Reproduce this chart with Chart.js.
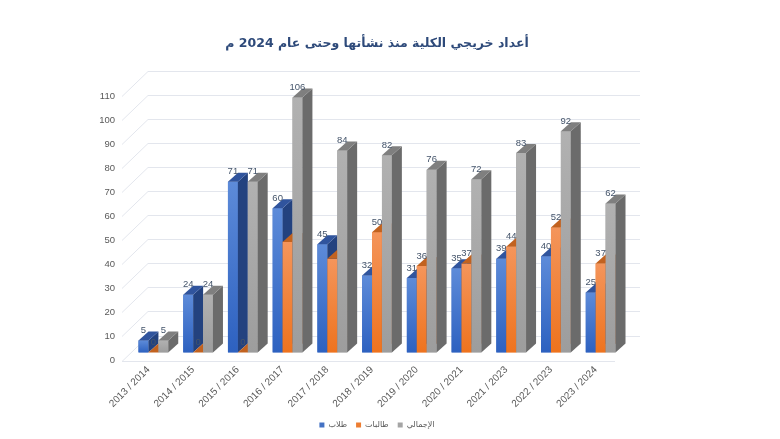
<!DOCTYPE html>
<html lang="ar">
<head>
<meta charset="utf-8">
<title>أعداد خريجي الكلية</title>
<script src="https://cdn.jsdelivr.net/npm/chart.js@4.4.1/dist/chart.umd.min.js"></script>
<style>
  html, body { margin: 0; padding: 0; background: #fff; }
  #wrap { width: 780px; height: 439px; }
</style>
</head>
<body>
<div id="wrap"><canvas id="chartKhirijin" width="780" height="439"></canvas></div>
<script>
// البيانات
const years = ['2013 / 2014', '2014 / 2015', '2015 / 2016', '2016 / 2017', '2017 / 2018', '2018 / 2019',
               '2019 / 2020', '2020 / 2021', '2021 / 2023', '2022 / 2023', '2023 / 2024'];
const tullab  = [5, 24, 71, 60, 45, 32, 31, 35, 39, 40, 25];
const talibat = [0, 0, 0, 46, 39, 50, 36, 37, 44, 52, 37];
const ijmali  = [5, 24, 71, 106, 84, 82, 76, 72, 83, 92, 62];
// labels of the orange bars that are hidden in the original
const talibatLabelShown = [true, true, true, false, false, true, true, true, true, true, true];
const yMin = 0, yMax = 110, yStep = 10;

// colours of each series: front (top/bottom gradient), side face, top face
const faces = [
    { hi: '#5d8bd9', lo: '#2d61c0', side: '#23427f', cap: '#30549d' },
    { hi: '#f4955b', lo: '#ee731e', side: '#a9541b', cap: '#c2621f' },
    { hi: '#b1b1b1', lo: '#9d9d9d', side: '#6b6b6b', cap: '#7f7f7f' }
];
const DX = 10, DY = 9;

const walls3d = {
    id: 'walls3d',
    beforeDatasetsDraw(chart) {
        const ctx = chart.ctx;
        const ys = chart.scales.y;
        const { left, right } = chart.chartArea;
        ctx.save();
        ctx.lineWidth = 1;
        ctx.strokeStyle = '#e3e6ed';
        for (let v = yMin; v <= yMax; v += yStep) {
            const yb = Math.round(ys.getPixelForValue(v));
            ctx.beginPath();
            ctx.moveTo(left - 9, yb + 8.5);
            ctx.lineTo(left + 17, yb - 16.5);
            if (v === 0) {
                ctx.moveTo(left - 9, yb + 8.5);
                ctx.lineTo(right - 8, yb + 8.5);
            }
            ctx.moveTo(left + 17, yb - 16.5);
            ctx.lineTo(right + 17, yb - 16.5);
            ctx.stroke();
        }
        ctx.restore();
    },
    afterDatasetsDraw(chart) {
        const ctx = chart.ctx;
        const metas = chart.data.datasets.map((d, i) => chart.getDatasetMeta(i));
        ctx.save();
        for (let j = 0; j < years.length; j++) {
            metas.forEach((meta, i) => {
                const el = meta.data[j];
                const f = faces[i];
                const x0 = el.x - el.width / 2, x1 = el.x + el.width / 2;
                const yt = el.y, yb = el.base;
                // front
                const g = ctx.createLinearGradient(0, yt, 0, yb);
                g.addColorStop(0, f.hi);
                g.addColorStop(1, f.lo);
                ctx.fillStyle = g;
                ctx.fillRect(x0, yt, x1 - x0, yb - yt);
                // side
                ctx.fillStyle = f.side;
                ctx.beginPath();
                ctx.moveTo(x1, yt);
                ctx.lineTo(x1 + DX, yt - DY);
                ctx.lineTo(x1 + DX, yb - DY);
                ctx.lineTo(x1, yb);
                ctx.closePath();
                ctx.fill();
                // top
                ctx.fillStyle = f.cap;
                ctx.beginPath();
                ctx.moveTo(x0, yt);
                ctx.lineTo(x0 + DX, yt - DY);
                ctx.lineTo(x1 + DX, yt - DY);
                ctx.lineTo(x1, yt);
                ctx.closePath();
                ctx.fill();
            });
        }
        // قيم الأعمدة
        ctx.font = '9.5px "Liberation Sans", Arial, sans-serif';
        ctx.fillStyle = '#44546a';
        ctx.textAlign = 'center';
        ctx.textBaseline = 'middle';
        metas.forEach((meta, i) => {
            const vals = chart.data.datasets[i].data;
            meta.data.forEach((el, j) => {
                if (i === 1 && !talibatLabelShown[j]) return;
                ctx.fillText(String(vals[j]), el.x, el.y - 10);
            });
        });
        ctx.restore();
    }
};

new Chart(document.getElementById('chartKhirijin'), {
    type: 'bar',
    data: {
        labels: years,
        datasets: [
            { label: 'طلاب', data: tullab, backgroundColor: '#4472c4' },
            { label: 'طالبات', data: talibat, backgroundColor: '#ed7d31' },
            { label: 'الإجمالي', data: ijmali, backgroundColor: '#a5a5a5' }
        ]
    },
    options: {
        responsive: false,
        animation: false,
        categoryPercentage: 0.665,
        barPercentage: 1.0,
        layout: { padding: { left: 91, right: 157, top: 0, bottom: 0 } },
        scales: {
            x: {
                grid: { display: false, drawTicks: false },
                border: { display: false },
                ticks: {
                    autoSkip: false, minRotation: 45, maxRotation: 45, padding: 11.5, labelOffset: -5,
                    color: '#595959', font: { family: '"Liberation Sans", Arial, sans-serif', size: 10 }
                },
                afterFit: (s) => { s.height = 59.5; }
            },
            y: {
                min: yMin, max: yMax,
                grid: { display: false, drawTicks: false },
                border: { display: false },
                ticks: {
                    stepSize: yStep, padding: 16, labelOffset: 8,
                    color: '#595959', font: { family: '"Liberation Sans", Arial, sans-serif', size: 9.5 }
                },
                afterFit: (s) => { s.width = 40; }
            }
        },
        plugins: {
            title: {
                display: true, fullSize: false,
                text: 'أعداد خريجي الكلية منذ نشأتها وحتى عام 2024 م',
                color: '#2e4a7a',
                font: { family: '"DejaVu Sans", sans-serif', size: 12.5, weight: 'bold' },
                padding: { top: 36, bottom: 37 }
            },
            legend: {
                position: 'bottom', fullSize: false,
                labels: {
                    boxWidth: 5, boxHeight: 5, padding: 9,
                    color: '#595959', font: { family: '"DejaVu Sans", sans-serif', size: 8 }
                }
            },
            tooltip: { enabled: false }
        }
    },
    plugins: [walls3d]
});
</script>
</body>
</html>
